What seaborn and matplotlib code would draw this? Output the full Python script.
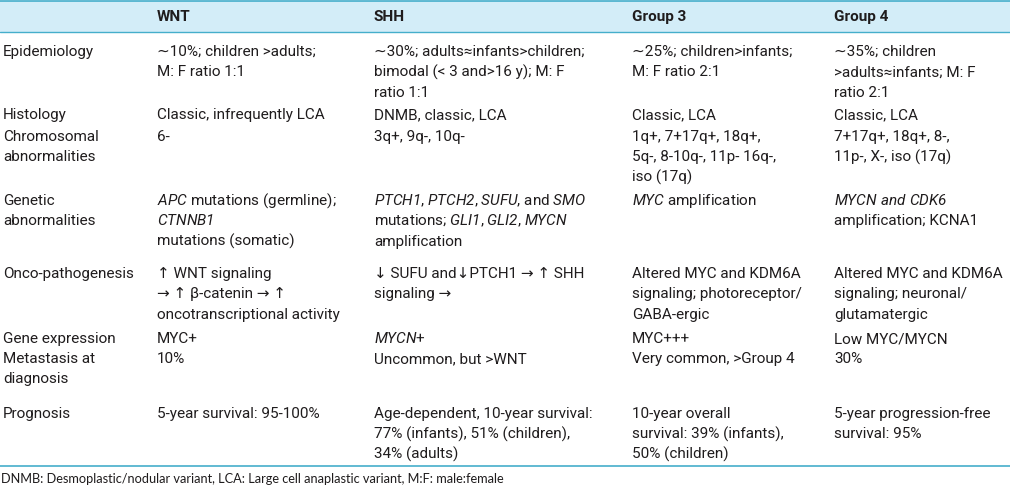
import seaborn as sns
import matplotlib.pyplot as plt

# =============================================================================
# TABLE CONTENT
# =============================================================================
groups = ["WNT", "SHH", "Group 3", "Group 4"]

row_labels = [
    ["Epidemiology"],
    ["Histology"],
    ["Chromosomal", "abnormalities"],
    ["Genetic", "abnormalities"],
    ["Onco-pathogenesis"],
    ["Gene expression"],
    ["Metastasis at", "diagnosis"],
    ["Prognosis"],
]

wnt = [
    ["\u223c10%; children >adults;", "M: F ratio 1:1"],
    ["Classic, infrequently LCA"],
    ["6-"],
    [r"$\mathit{APC}$ mutations (germline);", r"$\mathit{CTNNB1}$", "mutations (somatic)"],
    ["\u2191 WNT signaling", "\u2192 \u2191 \u03b2-catenin \u2192 \u2191", "oncotranscriptional activity"],
    ["MYC+"],
    ["10%"],
    ["5-year survival: 95-100%"],
]

shh = [
    ["\u223c30%; adults\u2248infants>children;", "bimodal (< 3 and>16 y); M: F", "ratio 1:1"],
    ["DNMB, classic, LCA"],
    ["3q+, 9q-, 10q-"],
    [r"$\mathit{PTCH1}$, $\mathit{PTCH2}$, $\mathit{SUFU}$, and $\mathit{SMO}$",
     r"mutations; $\mathit{GLI1}$, $\mathit{GLI2}$, $\mathit{MYCN}$", "amplification"],
    ["\u2193 SUFU and\u2193PTCH1 \u2192 \u2191 SHH", "signaling \u2192"],
    [r"$\mathit{MYCN}$+"],
    ["Uncommon, but >WNT"],
    ["Age-dependent, 10-year survival:", "77% (infants), 51% (children),", "34% (adults)"],
]

group3 = [
    ["\u223c25%; children>infants;", "M: F ratio 2:1"],
    ["Classic, LCA"],
    ["1q+, 7+17q+, 18q+,", "5q-, 8-10q-, 11p- 16q-,", "iso (17q)"],
    [r"$\mathit{MYC}$ amplification"],
    ["Altered MYC and KDM6A", "signaling; photoreceptor/", "GABA-ergic"],
    ["MYC+++"],
    ["Very common, >Group 4"],
    ["10-year overall", "survival: 39% (infants),", "50% (children)"],
]

group4 = [
    ["\u223c35%; children", ">adults\u2248infants; M: F", "ratio 2:1"],
    ["Classic, LCA"],
    ["7+17q+, 18q+, 8-,", "11p-, X-, iso (17q)"],
    [r"$\mathit{MYCN\ and\ CDK6}$", "amplification; KCNA1"],
    ["Altered MYC and KDM6A", "signaling; neuronal/", "glutamatergic"],
    ["Low MYC/MYCN"],
    ["30%"],
    ["5-year progression-free", "survival: 95%"],
]

footnote = "DNMB: Desmoplastic/nodular variant, LCA: Large cell anaplastic variant, M:F: male:female"

# =============================================================================
# LAYOUT (pixels)
# =============================================================================
col_x = [3, 157, 374, 632, 834]
row_y = [51, 114, 136, 200, 273, 338, 358, 413]
line_step = 20.4
header_y = 16

sns.set_theme(style="white")
plt.rcParams['font.family'] = ['Roboto', 'DejaVu Sans']
plt.rcParams['mathtext.fontset'] = 'custom'
# digits inside \mathit go through the rm slot, so keep that italic too
plt.rcParams['mathtext.rm'] = 'Roboto:italic'
plt.rcParams['mathtext.it'] = 'Roboto:italic'
plt.rcParams['mathtext.bf'] = 'Roboto:bold'

text_color = '#1f1c1d'
line_color = '#45aecb'
band_color = '#d3edf8'
fs = 11.0

fig = plt.figure(figsize=(10.1, 4.87), dpi=100)
ax = fig.add_axes([0, 0, 1, 1])
ax.set_xlim(0, 1010)
ax.set_ylim(487, 0)
ax.axis('off')

# header band
ax.axhspan(1, 32, color=band_color, lw=0)
ax.axhline(1, color=line_color, lw=1.2)
ax.axhline(32, color=line_color, lw=1.0)
ax.axhline(466, color=line_color, lw=1.2)

for x, g in zip(col_x[1:], groups):
    ax.text(x, header_y + 5, g, fontsize=fs, fontweight='bold', color=text_color, va='baseline')

columns = [row_labels, wnt, shh, group3, group4]
for x, col in zip(col_x, columns):
    for y0, cell in zip(row_y, col):
        for i, line in enumerate(cell):
            ax.text(x, y0 + 5 + i * line_step, line, fontsize=fs, color=text_color, va='baseline')

ax.text(1, 479, footnote, fontsize=9.2, family=['Lato', 'DejaVu Sans'], color=text_color, va='center')

plt.savefig('out.png', dpi=100)
